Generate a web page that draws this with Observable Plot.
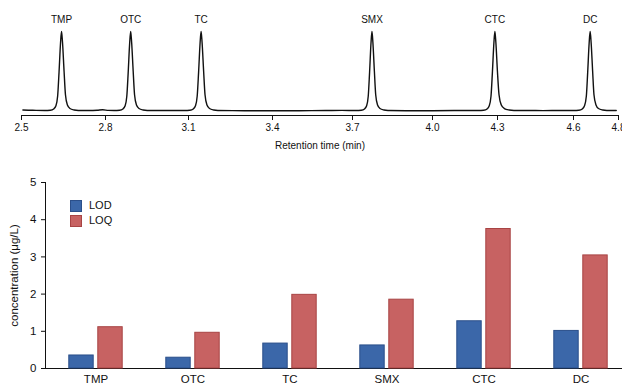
<!DOCTYPE html>
<html><head><meta charset="utf-8">
<script src="https://cdn.jsdelivr.net/npm/d3@7"></script>
<script src="https://cdn.jsdelivr.net/npm/@observablehq/plot@0.6"></script>
<style>
body{margin:0;background:#fff;font-family:"Liberation Sans",Arial,sans-serif;}
#wrap{position:relative;width:622px;height:385px;overflow:hidden;background:#fff}
#wrap svg{display:block}
.legend{position:absolute;left:70px;top:198px;font-size:11px;color:#111;line-height:15px}
.legend div{display:flex;align-items:center;height:15px}
.legend span.sw{display:inline-block;width:10px;height:10px;margin-right:7px;border:1px solid}
</style></head><body><div id="wrap"></div>
<script>
// ---- bar data ----
const compounds = ["TMP","OTC","TC","SMX","CTC","DC"];
const lodValues = [0.35,0.29,0.67,0.62,1.27,1.01];
const loqValues = [1.11,0.96,1.98,1.85,3.75,3.04];
const concTicks = [0,1,2,3,4,5];

// ---- chromatogram data ----
const peakNames = ["TMP","OTC","TC","SMX","CTC","DC"];
const peakTimes = [2.643,2.891,3.145,3.773,4.288,4.674];
const peakHeights = [100,100,100,100,100,100];
const timeTicks = [2.5,2.8,3.1,3.4,3.7,4.0,4.3,4.6,4.8];

const traceTime = [
  2.505,2.540,
  2.583,2.603,2.615,2.623,2.629,2.634,2.6395,2.643,2.6465,2.652,2.657,2.664,2.673,2.688,2.703,
  2.740,2.770,2.790,2.810,
  2.831,2.851,2.863,2.871,2.877,2.882,2.8875,2.891,2.8945,2.900,2.905,2.912,2.921,2.936,2.951,
  3.000,3.050,
  3.085,3.105,3.117,3.125,3.131,3.136,3.1415,3.145,3.1485,3.154,3.159,3.166,3.175,3.190,3.205,
  3.300,3.400,3.500,3.600,3.660,
  3.713,3.733,3.745,3.753,3.759,3.764,3.7695,3.773,3.7765,3.782,3.787,3.794,3.803,3.818,3.833,
  3.900,4.000,4.100,4.170,
  4.211,4.236,4.252,4.262,4.270,4.2764,4.2835,4.288,4.2925,4.2996,4.306,4.315,4.327,4.346,4.365,
  4.420,4.480,4.550,
  4.600,4.624,4.639,4.649,4.657,4.663,4.6697,4.674,4.6783,4.685,4.691,4.700,4.711,4.730,4.748,
  4.790
];
const traceSignal = [
  0.6,0.3,
  0,0.4,2,6,18,48,86,100,86,50,20,7,2.5,0.6,0,
  0,0.3,0.9,0.2,
  0,0.4,2,6,18,48,86,100,86,50,20,7,2.5,0.6,0,
  0,0,
  0,0.4,2,6,18,48,86,100,86,50,20,7,2.5,0.6,0,
  -0.2,-0.3,-0.2,0,0.2,
  0,0.4,2,6,18,48,86,100,86,50,20,7,2.5,0.6,0,
  -0.2,-0.2,0,0.1,
  0,0.4,2,6,18,48,86,100,86,50,20,7,2.5,0.6,0,
  0,-0.1,0,
  0,0.4,2,6,18,48,86,100,86,50,20,7,2.5,0.6,0,
  0
];

const trace = traceTime.map((t,i)=>({t, s: traceSignal[i]}));
const peaks = peakNames.map((name,i)=>({name, t: peakTimes[i], h: peakHeights[i]}));
const rows = compounds.map((c,i)=>({compound:c, lod: lodValues[i], loq: loqValues[i]}));

const font = '"Liberation Sans", Arial, sans-serif';

// the reference's time axis is drawn with uneven tick spacing; reproduce it with a piecewise warp
const warp = d3.scaleLinear().domain(timeTicks).range([0,84,167,251,331,411,476,552,597]);

const topChart = Plot.plot({
  width: 622, height: 150,
  marginTop: 31, marginBottom: 35, marginLeft: 21, marginRight: 4,
  style: {fontFamily: font, fontSize: "10px", color: "#111", background: "transparent", overflow: "visible"},
  x: {
    transform: warp, domain: [0, 597],
    label: "Retention time (min)", labelAnchor: "center", labelArrow: "none", labelOffset: 33
  },
  y: {domain: [-6.3, 100], axis: null},
  marks: [
    Plot.axisX(timeTicks, {tickFormat: d3.format(".1f"), tickSize: 5, tickPadding: 3, label: "Retention time (min)", labelAnchor: "center", labelArrow: "none", labelOffset: 33}),
    Plot.ruleY([-6.3], {stroke: "#111", strokeWidth: 1}),
    Plot.line(trace, {x: "t", y: "s", curve: "monotone-x", stroke: "#111", strokeWidth: 1.4}),
    Plot.text(peaks, {x: "t", y: "h", text: "name", dy: -12, fontSize: 10, fill: "#111"})
  ]
});

const bottomChart = Plot.plot({
  width: 622, height: 235,
  marginTop: 32, marginBottom: 17, marginLeft: 45, marginRight: 0,
  style: {fontFamily: font, fontSize: "11.5px", color: "#111", background: "transparent", overflow: "visible"},
  x: {domain: compounds, range: [45, 631], padding: 0, tickSize: 0, tickPadding: 6, label: null, line: true},
  y: {
    domain: [0, 5], ticks: concTicks, tickFormat: d3.format("d"), tickSize: 4, tickPadding: 5, line: true,
    label: "concentration (μg/L)", labelAnchor: "center", labelArrow: "none", labelOffset: 36
  },
  marks: [
    Plot.barY(rows, {x: "compound", y: "lod", fill: "#3b67a9", stroke: "#2b4f8a", strokeWidth: 1, insetLeft: 21.8, insetRight: 50.8}),
    Plot.barY(rows, {x: "compound", y: "loq", fill: "#c76262", stroke: "#a84444", strokeWidth: 1, insetLeft: 50.8, insetRight: 21.8})
  ]
});

const wrap = document.getElementById("wrap");
wrap.appendChild(topChart);
wrap.appendChild(bottomChart);

const legend = document.createElement("div");
legend.className = "legend";
[["LOD","#3b67a9","#2b4f8a"],["LOQ","#c76262","#a84444"]].forEach(([name, fill, stroke])=>{
  const row = document.createElement("div");
  const sw = document.createElement("span");
  sw.className = "sw"; sw.style.background = fill; sw.style.borderColor = stroke;
  row.appendChild(sw);
  row.appendChild(document.createTextNode(name));
  legend.appendChild(row);
});
wrap.appendChild(legend);
</script>
</body></html>
